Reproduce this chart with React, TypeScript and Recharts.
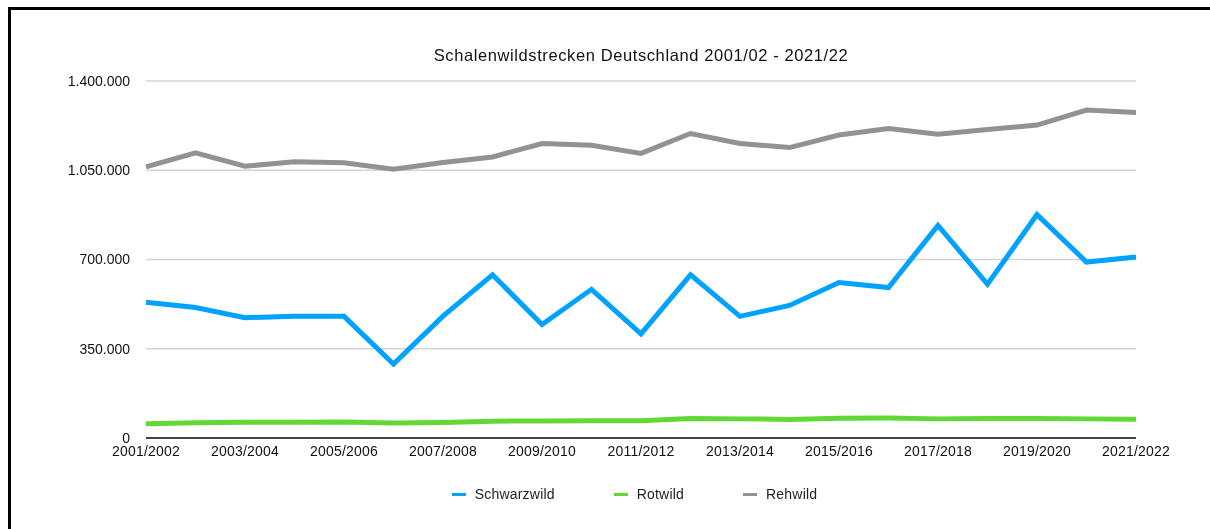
import React from "react";
import { LineChart, Line, XAxis, YAxis, CartesianGrid, Legend } from "recharts";

const seasons = [
  "2001/2002", "2002/2003", "2003/2004", "2004/2005", "2005/2006", "2006/2007", "2007/2008",
  "2008/2009", "2009/2010", "2010/2011", "2011/2012", "2012/2013", "2013/2014", "2014/2015",
  "2015/2016", "2016/2017", "2017/2018", "2018/2019", "2019/2020", "2020/2021", "2021/2022",
];
const schwarzwild = [
  532000, 512000, 472000, 477000, 477000, 290000, 478000, 640000, 445000, 583000, 408000,
  640000, 477000, 520000, 610000, 590000, 834000, 603000, 876000, 690000, 710000,
];
const rotwild = [
  56000, 60000, 62000, 62000, 63000, 59000, 61000, 66000, 67000, 68000, 68000,
  76000, 75000, 73000, 77000, 78000, 75000, 76000, 76000, 75000, 74000,
];
const rehwild = [
  1063000, 1118000, 1066000, 1083000, 1079000, 1054000, 1080000, 1102000, 1155000, 1148000, 1116000,
  1194000, 1155000, 1139000, 1188000, 1214000, 1191000, 1210000, 1227000, 1286000, 1276000,
];
const yTicks = [0, 350000, 700000, 1050000, 1400000];
const title = "Schalenwildstrecken Deutschland 2001/02 - 2021/22";

const seriesInfo = [
  { key: "Schwarzwild", color: "#00A2FF" },
  { key: "Rotwild", color: "#61D836" },
  { key: "Rehwild", color: "#929292" },
];

const data = seasons.map((s, i) => ({
  season: s,
  Schwarzwild: schwarzwild[i],
  Rotwild: rotwild[i],
  Rehwild: rehwild[i],
}));

const FONT = '"Liberation Sans", Arial, Helvetica, sans-serif';

const fmt = (v: number) => String(v).replace(/\B(?=(\d{3})+(?!\d))/g, ".");

const LegendContent = () => (
  <div
    style={{
      display: "flex",
      justifyContent: "center",
      alignItems: "center",
      height: 20,
      fontFamily: FONT,
      fontSize: 14,
      letterSpacing: 0.2,
      color: "#222",
    }}
  >
    {seriesInfo.map((s, i) => (
      <div
        key={s.key}
        style={{ display: "flex", alignItems: "center", marginRight: i < seriesInfo.length - 1 ? 59 : 0 }}
      >
        <span style={{ display: "inline-block", width: 14, height: 3, background: s.color, marginRight: 9 }} />
        <span>{s.key}</span>
      </div>
    ))}
  </div>
);

export default function App() {
  return (
    <div>
      <div
        style={{
          position: "fixed",
          left: 8,
          top: 7,
          width: 1250,
          height: 600,
          borderTop: "3px solid #000",
          borderLeft: "3px solid #000",
          pointerEvents: "none",
        }}
      />
      <div style={{ position: "fixed", left: 0, top: 0 }}>
        <LineChart
          width={1210}
          height={529}
          data={data}
          margin={{ top: 81, right: 74, left: 0, bottom: 41 }}
        >
          <text
            x={641}
            y={61}
            textAnchor="middle"
            fontFamily={FONT}
            fontSize={16.5}
            letterSpacing={0.6}
            fill="#111"
          >
            {title}
          </text>
          <CartesianGrid vertical={false} stroke="#d4d4d4" strokeWidth={1.5} />
          <XAxis
            dataKey="season"
            interval={1}
            tickLine={false}
            axisLine={{ stroke: "#111", strokeWidth: 1.5 }}
            height={30}
            tick={{ fontFamily: FONT, fontSize: 14, fill: "#111", letterSpacing: 0.2 }}
          />
          <YAxis
            domain={[0, 1400000]}
            ticks={yTicks}
            tickFormatter={fmt}
            axisLine={false}
            tickLine={false}
            tickMargin={10}
            width={146}
            tick={{ fontFamily: FONT, fontSize: 14, fill: "#111" }}
          />
          <Legend
            verticalAlign="bottom"
            content={<LegendContent />}
            wrapperStyle={{ bottom: 25, left: 98, width: 1073 }}
          />
          {seriesInfo.map((s) => (
            <Line
              key={s.key}
              type="linear"
              dataKey={s.key}
              stroke={s.color}
              strokeWidth={5}
              dot={false}
              activeDot={false}
              isAnimationActive={false}
            />
          ))}
        </LineChart>
      </div>
    </div>
  );
}
